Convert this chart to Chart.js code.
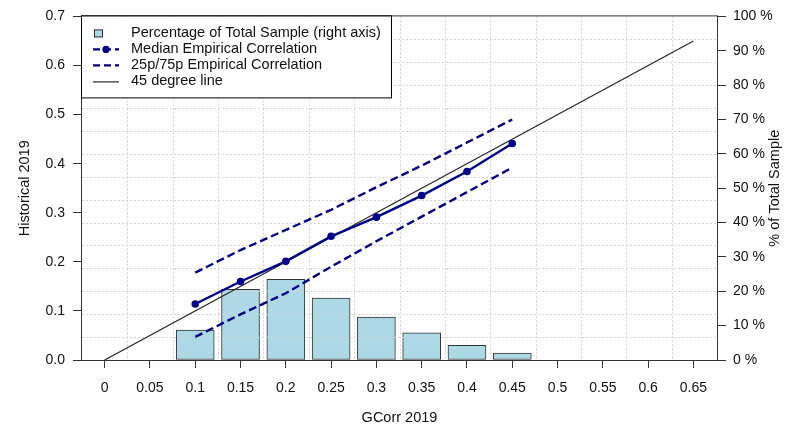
<!DOCTYPE html>
<html>
<head>
<meta charset="utf-8">
<script src="https://cdn.jsdelivr.net/npm/chart.js@4.4.1/dist/chart.umd.min.js"></script>
<style>
  html, body { margin: 0; padding: 0; background: #ffffff; }
  #wrap { width: 794px; height: 427px; }
</style>
</head>
<body>
<div id="wrap"><canvas id="c" width="794" height="427"></canvas></div>
<script>
// GCorr 2019 buckets: bar centres and point positions
const gcorrBuckets = [0.10, 0.15, 0.20, 0.25, 0.30, 0.35, 0.40, 0.45];
// share of the total sample in each bucket, in percent (right axis)
const sampleShare = [8.7, 20.6, 23.5, 18.0, 12.5, 7.9, 4.3, 2.0];
// empirical (historical 2019) correlation per bucket
const medianCorr = [0.114, 0.160, 0.201, 0.252, 0.291, 0.335, 0.384, 0.441];
const p75Corr = [0.178, 0.224, 0.265, 0.306, 0.352, 0.396, 0.443, 0.490];
const p25Corr = [0.047, 0.093, 0.136, 0.190, 0.242, 0.292, 0.342, 0.392];
// reference diagonal
const diagonalX = [0, 0.65];

// axis ticks and their labels
const xTicks = [0, 0.05, 0.10, 0.15, 0.20, 0.25, 0.30, 0.35, 0.40, 0.45, 0.50, 0.55, 0.60, 0.65];
const xTickLabels = ['0', '0.05', '0.1', '0.15', '0.2', '0.25', '0.3', '0.35', '0.4', '0.45', '0.5', '0.55', '0.6', '0.65'];
const yTicks = [0, 0.1, 0.2, 0.3, 0.4, 0.5, 0.6, 0.7];
const yTickLabels = ['0.0', '0.1', '0.2', '0.3', '0.4', '0.5', '0.6', '0.7'];
const shareTicks = [0, 10, 20, 30, 40, 50, 60, 70, 80, 90, 100];
const shareTickLabels = ['0 %', '10 %', '20 %', '30 %', '40 %', '50 %', '60 %', '70 %', '80 %', '90 %', '100 %'];

const FONT = '"Liberation Sans", Arial, Helvetica, sans-serif';
const DARKBLUE = '#00008B';
const TEXT = '#111111';
const AXIS = '#333333';
const DIAG = '#262626';

const pts = (xs, ys) => xs.map((x, i) => ({ x: x, y: ys[i] }));

// dotted background grid, drawn right after the bars so it shows across them
const gridPlugin = {
  id: 'dottedGrid',
  afterDatasetDraw(chart, args) {
    if (args.index !== 0) return;
    const { ctx, chartArea: a } = chart;
    const cols = 14, rows = 15;
    ctx.save();
    ctx.strokeStyle = '#d3d3d3';
    ctx.lineWidth = 1;
    ctx.setLineDash([2, 2]);
    ctx.beginPath();
    for (let i = 1; i < cols; i++) {
      const x = Math.round(a.left + (a.right - a.left) * i / cols) + 0.5;
      ctx.moveTo(x, a.top); ctx.lineTo(x, a.bottom);
    }
    for (let j = 1; j < rows; j++) {
      const y = Math.round(a.bottom - (a.bottom - a.top) * j / rows) + 0.5;
      ctx.moveTo(a.left, y); ctx.lineTo(a.right, y);
    }
    ctx.stroke();
    ctx.restore();
  }
};

// plot frame, axis titles and the boxed legend in the top-left corner
const framePlugin = {
  id: 'frameAndLegend',
  afterDraw(chart) {
    const { ctx, chartArea: a } = chart;
    ctx.save();
    ctx.setLineDash([]);
    ctx.strokeStyle = AXIS;
    ctx.lineWidth = 1;
    ctx.strokeRect(a.left - 0.5, a.top - 0.5, a.right - a.left + 1, a.bottom - a.top + 1);

    // axis titles
    ctx.fillStyle = TEXT;
    ctx.font = '14.5px ' + FONT;
    ctx.textAlign = 'center';
    ctx.textBaseline = 'middle';
    const midY = (a.top + a.bottom) / 2;
    ctx.fillText('GCorr 2019', (a.left + a.right) / 2, a.bottom + 58);
    ctx.save();
    ctx.translate(25, midY);
    ctx.rotate(-Math.PI / 2);
    ctx.fillText('Historical 2019', 0, 0);
    ctx.restore();
    ctx.save();
    ctx.translate(chart.width - 19, midY);
    ctx.rotate(-Math.PI / 2);
    ctx.fillText('% of Total Sample', 0, 0);
    ctx.restore();

    // legend
    const ds = chart.data.datasets;
    const lx = a.left, ly = a.top, lw = 309, lh = 81;
    ctx.fillStyle = '#ffffff';
    ctx.fillRect(lx, ly, lw, lh);
    ctx.strokeStyle = '#000000';
    ctx.strokeRect(lx - 0.5, ly - 0.5, lw + 1, lh + 1);
    const rowY = [31, 47, 63, 79].map(v => v + ly - 14);
    const symL = lx + 11, symR = lx + 37, textX = lx + 49;
    // bar swatch
    ctx.fillStyle = ds[0].backgroundColor;
    ctx.fillRect(symL + 1, rowY[0] - 4, 9, 8);
    ctx.strokeStyle = AXIS;
    ctx.strokeRect(symL + 1.5, rowY[0] - 3.5, 8, 7);
    // median: dashed line with a dot
    ctx.strokeStyle = DARKBLUE;
    ctx.lineWidth = 2.4;
    ctx.setLineDash([7, 4]);
    ctx.beginPath(); ctx.moveTo(symL, rowY[1]); ctx.lineTo(symR, rowY[1]); ctx.stroke();
    ctx.setLineDash([]);
    ctx.fillStyle = DARKBLUE;
    ctx.beginPath(); ctx.arc((symL + symR) / 2, rowY[1], 3.6, 0, Math.PI * 2); ctx.fill();
    // percentiles: dashed
    ctx.setLineDash([7, 4]);
    ctx.beginPath(); ctx.moveTo(symL, rowY[2]); ctx.lineTo(symR, rowY[2]); ctx.stroke();
    ctx.setLineDash([]);
    // diagonal: thin solid
    ctx.strokeStyle = DIAG;
    ctx.lineWidth = 1.2;
    ctx.beginPath(); ctx.moveTo(symL, rowY[3] + 0.5); ctx.lineTo(symR, rowY[3] + 0.5); ctx.stroke();

    ctx.fillStyle = TEXT;
    ctx.font = '14.5px ' + FONT;
    ctx.textAlign = 'left';
    ctx.textBaseline = 'middle';
    const legendOrder = [0, 3, 2, 1];
    legendOrder.forEach((k, i) => ctx.fillText(ds[k].label, textX, rowY[i]));
    ctx.restore();
  }
};

const tickFont = { family: FONT, size: 14 };

new Chart(document.getElementById('c'), {
  data: {
    datasets: [
      {
        type: 'bar',
        label: 'Percentage of Total Sample (right axis)',
        data: pts(gcorrBuckets, sampleShare),
        yAxisID: 'y2',
        backgroundColor: '#ADD8E6',
        borderColor: AXIS,
        borderWidth: 1,
        borderSkipped: false,
        barThickness: 38,
        order: 4
      },
      {
        type: 'line',
        label: '45 degree line',
        data: pts(diagonalX, diagonalX),
        yAxisID: 'y',
        borderColor: DIAG,
        borderWidth: 1.2,
        pointRadius: 0,
        tension: 0,
        order: 3
      },
      {
        type: 'line',
        label: '25p/75p Empirical Correlation',
        data: pts(gcorrBuckets, p75Corr),
        yAxisID: 'y',
        borderColor: DARKBLUE,
        borderWidth: 2.4,
        borderDash: [8, 4],
        pointRadius: 0,
        tension: 0,
        order: 2
      },
      {
        type: 'line',
        label: 'Median Empirical Correlation',
        data: pts(gcorrBuckets, medianCorr),
        yAxisID: 'y',
        borderColor: DARKBLUE,
        borderWidth: 2.4,
        pointRadius: 3.8,
        pointBackgroundColor: DARKBLUE,
        pointBorderColor: DARKBLUE,
        pointBorderWidth: 0,
        tension: 0,
        order: 1
      },
      {
        type: 'line',
        label: '25p Empirical Correlation',
        data: pts(gcorrBuckets, p25Corr),
        yAxisID: 'y',
        borderColor: DARKBLUE,
        borderWidth: 2.4,
        borderDash: [8, 4],
        pointRadius: 0,
        tension: 0,
        order: 2
      }
    ]
  },
  options: {
    responsive: false,
    devicePixelRatio: 1,
    animation: false,
    layout: { padding: { top: 14, left: 0, right: 0, bottom: 0 } },
    plugins: { legend: { display: false }, tooltip: { enabled: false } },
    scales: {
      x: {
        type: 'linear',
        position: 'bottom',
        offset: false,
        min: -0.025,
        max: 0.676,
        afterFit: s => { s.height = 67; },
        afterBuildTicks: s => { s.ticks = xTicks.map(v => ({ value: v })); },
        grid: { offset: false, drawOnChartArea: false, drawTicks: true, tickLength: 8, tickColor: AXIS, tickWidth: 1 },
        border: { display: false },
        ticks: {
          autoSkip: false, maxRotation: 0, minRotation: 0, padding: 12,
          color: TEXT, font: tickFont,
          callback: (v, i) => xTickLabels[i]
        }
      },
      y: {
        type: 'linear',
        position: 'left',
        min: 0,
        max: 0.7,
        afterFit: s => { s.width = 82; },
        afterBuildTicks: s => { s.ticks = yTicks.map(v => ({ value: v })); },
        grid: { drawOnChartArea: false, drawTicks: true, tickLength: 9, tickColor: AXIS, tickWidth: 1 },
        border: { display: false },
        ticks: { padding: 8, color: TEXT, font: tickFont, callback: (v, i) => yTickLabels[i] }
      },
      y2: {
        type: 'linear',
        position: 'right',
        min: 0,
        max: 100,
        afterFit: s => { s.width = 77; },
        afterBuildTicks: s => { s.ticks = shareTicks.map(v => ({ value: v })); },
        grid: { drawOnChartArea: false, drawTicks: true, tickLength: 9, tickColor: AXIS, tickWidth: 1 },
        border: { display: false },
        ticks: { padding: 7, color: TEXT, font: tickFont, callback: (v, i) => shareTickLabels[i] }
      }
    }
  },
  plugins: [gridPlugin, framePlugin]
});
</script>
</body>
</html>
